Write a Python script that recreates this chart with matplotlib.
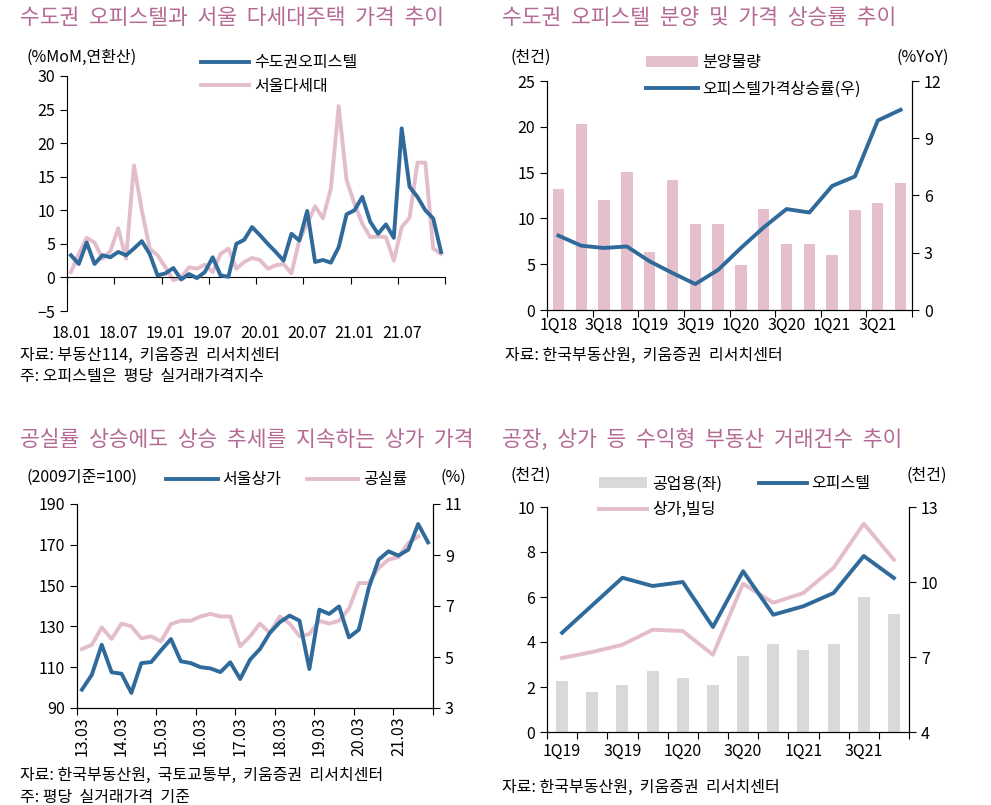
import matplotlib
matplotlib.use("Agg")
import matplotlib.pyplot as plt
import numpy as np

plt.rcParams['font.family'] = ['Noto Sans CJK KR', 'DejaVu Sans']
plt.rcParams['axes.unicode_minus'] = True

# ---- data ----
# panel 1: monthly, 18.01 ~ 21.12
officetel_mom = [3.3, 2.0, 5.2, 2.0, 3.3, 3.0, 3.8, 3.3, 4.3, 5.4, 3.5, 0.3,
                 0.6, 1.4, -0.3, 0.5, -0.1, 0.8, 3.0, 0.3, 0.1, 5.0, 5.6, 7.5,
                 6.3, 5.0, 3.8, 2.5, 6.5, 5.5, 9.9, 2.3, 2.6, 2.2, 4.5, 9.4,
                 10.0, 12.0, 8.3, 6.5, 7.9, 5.9, 22.2, 13.5, 12.0, 10.0, 8.8, 3.8]
villa_mom = [0.8, 3.5, 5.9, 5.2, 2.8, 3.9, 7.3, 2.8, 16.7, 10.0, 4.3, 3.3,
             1.5, -0.4, 0.0, 1.5, 1.3, 1.9, 0.8, 3.5, 4.3, 1.3, 2.3, 2.9,
             2.6, 1.3, 1.8, 2.0, 0.6, 5.5, 8.0, 10.6, 8.8, 13.2, 25.5, 14.5,
             11.0, 8.0, 6.0, 6.1, 6.0, 2.5, 7.5, 8.9, 17.1, 17.1, 4.3, 3.5]
month_labels = ['18.01', '18.07', '19.01', '19.07', '20.01', '20.07', '21.01', '21.07']

# panel 2: quarterly, 1Q18 ~ 4Q21
supply = [13.2, 20.3, 12.0, 15.1, 6.3, 14.2, 9.4, 9.4,
          4.9, 11.05, 7.2, 7.2, 6.0, 10.9, 11.7, 13.9]
officetel_yoy = [3.9, 3.37, 3.25, 3.33, 2.55, 1.94, 1.36, 2.1,
                 3.25, 4.33, 5.29, 5.11, 6.5, 7.0, 9.93, 10.49]
q18_labels = ['1Q18', '3Q18', '1Q19', '3Q19', '1Q20', '3Q20', '1Q21', '3Q21']

# panel 3: quarterly, 13.03 ~ 21.12
seoul_shop = [99, 106.3, 121, 107.5, 106.8, 97.4, 112, 112.5, 118.3, 123.8,
              112.9, 112, 110, 109.4, 107.6, 112.4, 104.2, 113.7, 118.9, 126.8,
              132, 135.3, 132.8, 109.1, 138.2, 136.1, 139.8, 124.6, 128.4, 148.8,
              162.7, 166.8, 164.7, 167.6, 180.2, 171.2]
vacancy = [5.31, 5.48, 6.16, 5.71, 6.31, 6.2, 5.73, 5.81, 5.61, 6.29,
           6.42, 6.42, 6.59, 6.69, 6.59, 6.59, 5.42, 5.81, 6.31, 5.94,
           6.59, 6.31, 5.81, 5.9, 6.42, 6.31, 6.42, 6.9, 7.9, 7.9,
           8.49, 8.82, 8.92, 9.47, 9.73]
year_labels = ['13.03', '14.03', '15.03', '16.03', '17.03', '18.03', '19.03', '20.03', '21.03']

# panel 4: quarterly, 1Q19 ~ 4Q21
industrial = [2.25, 1.8, 2.1, 2.71, 2.4, 2.07, 3.38, 3.9, 3.63, 3.9, 6.0, 5.23]
officetel_cnt = [7.97, 9.07, 10.17, 9.84, 10.0, 8.2, 10.43, 8.69, 9.03, 9.56, 11.04, 10.16]
shop_bldg = [6.96, 7.2, 7.49, 8.09, 8.04, 7.09, 9.93, 9.17, 9.56, 10.57, 12.33, 10.89]
q19_labels = ['1Q19', '3Q19', '1Q20', '3Q20', '1Q21', '3Q21']

BLUE = '#2f6a9b'
PINK = '#e3bdcb'
BARPINK = '#e5c0cc'
GRAY = '#d9d9d9'
TITLE = '#b46a94'
FS = 11.5
TFS = 15.5

W, H = 991, 805
fig = plt.figure(figsize=(W / 100, H / 100), dpi=100)


def box(x0, y0, x1, y1):
    return [x0 / W, 1 - y1 / H, (x1 - x0) / W, (y1 - y0) / H]


def ftext(x, y, s, **kw):
    kw.setdefault('fontsize', FS)
    kw.setdefault('va', 'center')
    fig.text(x / W, 1 - y / H, s, **kw)


def cat_xaxis(ax, n, step, labels, pad=4, rotation=0, tick_every=None):
    te = tick_every or step
    ax.set_xlim(-0.5, n - 0.5)
    ax.set_xticks(np.arange(-0.5, n, te))
    ax.set_xticklabels([])
    ax.set_xticks(np.arange(0, n, step)[:len(labels)], minor=True)
    ax.set_xticklabels(labels, minor=True, rotation=rotation, fontsize=FS)
    ax.tick_params(axis='x', which='major', length=5, direction='out')
    ax.tick_params(axis='x', which='minor', length=0, pad=pad)


# ---------- panel 1 ----------
ax1 = fig.add_axes(box(67, 76, 445, 311))
x1 = np.arange(len(officetel_mom))
ax1.plot(x1, officetel_mom, color=BLUE, lw=2.8, label='수도권오피스텔', zorder=3)
ax1.plot(x1, villa_mom, color=PINK, lw=2.8, label='서울다세대', zorder=2)
ax1.set_ylim(-5, 30)
ax1.set_yticks(range(-5, 31, 5))
ax1.tick_params(axis='y', labelsize=FS, length=5)
for s in ['top', 'right']:
    ax1.spines[s].set_visible(False)
ax1.spines['bottom'].set_position(('data', 0))
cat_xaxis(ax1, 48, 6, month_labels, pad=34)
ax1.legend(loc='upper left', bbox_to_anchor=(195 / W, 1 - 48 / H), bbox_transform=fig.transFigure,
           frameon=False, fontsize=FS, handlelength=3.0, handletextpad=0.3, labelspacing=0.4,
           borderaxespad=0)
ftext(27, 57, '(%MoM,연환산)')
ftext(20, 18, '수도권  오피스텔과  서울  다세대주택  가격  추이', fontsize=TFS, color=TITLE)
ftext(20, 355, '자료: 부동산114,  키움증권  리서치센터')
ftext(20, 377, '주: 오피스텔은  평당  실거래가격지수')

# ---------- panel 2 ----------
ax2 = fig.add_axes(box(547, 81, 912, 310))
x2 = np.arange(len(supply))
ax2.bar(x2, supply, width=0.5, color=BARPINK, label='분양물량')
ax2.set_ylim(0, 25)
ax2.set_yticks(range(0, 26, 5))
ax2.tick_params(axis='y', labelsize=FS, length=5)
ax2.spines['top'].set_visible(False)
cat_xaxis(ax2, 16, 2, q18_labels, pad=5)
ax2r = ax2.twinx()
ax2r.plot(x2, officetel_yoy, color=BLUE, lw=2.8, label='오피스텔가격상승률(우)')
ax2r.set_ylim(0, 12)
ax2r.set_yticks(range(0, 13, 3))
ax2r.tick_params(axis='y', labelsize=FS, length=5)
ax2r.spines['top'].set_visible(False)
h1, l1 = ax2.get_legend_handles_labels()
h2, l2 = ax2r.get_legend_handles_labels()
ax2r.legend(h1 + h2, l1 + l2, loc='upper left', bbox_to_anchor=(640 / W, 1 - 48 / H),
            bbox_transform=fig.transFigure, frameon=False, fontsize=FS, handlelength=3.2,
            handletextpad=0.3, labelspacing=0.6, borderaxespad=0)
ftext(510, 57, '(천건)')
ftext(896, 57, '(%YoY)')
ftext(502, 18, '수도권  오피스텔  분양  및  가격  상승률  추이', fontsize=TFS, color=TITLE)
ftext(505, 355, '자료: 한국부동산원,  키움증권  리서치센터')

# ---------- panel 3 ----------
ax3 = fig.add_axes(box(77, 504, 433, 708))
x3 = np.arange(len(seoul_shop))
ax3.plot(x3, seoul_shop, color=BLUE, lw=2.8, label='서울상가', zorder=3)
ax3.set_ylim(90, 190)
ax3.set_yticks(range(90, 191, 20))
ax3.tick_params(axis='y', labelsize=FS, length=5)
ax3.spines['top'].set_visible(False)
cat_xaxis(ax3, 36, 4, year_labels, pad=6, rotation=90)
ax3r = ax3.twinx()
ax3r.plot(np.arange(len(vacancy)), vacancy, color=PINK, lw=2.8, label='공실률', zorder=2)
ax3r.set_ylim(3, 11)
ax3r.set_yticks(range(3, 12, 2))
ax3r.tick_params(axis='y', labelsize=FS, length=5)
ax3r.spines['top'].set_visible(False)
ax3.set_zorder(ax3r.get_zorder() + 1)
ax3.patch.set_visible(False)
h1, l1 = ax3.get_legend_handles_labels()
h2, l2 = ax3r.get_legend_handles_labels()
ax3.legend(h1 + h2, l1 + l2, loc='upper left', bbox_to_anchor=(160 / W, 1 - 465 / H),
           bbox_transform=fig.transFigure, frameon=False, fontsize=FS, ncol=2,
           handlelength=3.2, handletextpad=0.3, columnspacing=1.6, borderaxespad=0)
ftext(27, 477, '(2009기준=100)')
ftext(440, 477, '(%)')
ftext(20, 440, '공실률  상승에도  상승  추세를  지속하는  상가  가격', fontsize=TFS, color=TITLE)
ftext(20, 775, '자료: 한국부동산원,  국토교통부,  키움증권  리서치센터')
ftext(20, 797, '주: 평당  실거래가격  기준')

# ---------- panel 4 ----------
ax4 = fig.add_axes(box(547, 507, 909, 732))
x4 = np.arange(len(industrial))
ax4.bar(x4, industrial, width=0.4, color=GRAY, label='공업용(좌)')
ax4.set_ylim(0, 10)
ax4.set_yticks(range(0, 11, 2))
ax4.tick_params(axis='y', labelsize=FS, length=5)
ax4.spines['top'].set_visible(False)
cat_xaxis(ax4, 12, 2, q19_labels, pad=8, tick_every=1)
ax4r = ax4.twinx()
ax4r.plot(x4, officetel_cnt, color=BLUE, lw=2.8, label='오피스텔', zorder=3)
ax4r.plot(x4, shop_bldg, color=PINK, lw=2.8, label='상가,빌딩', zorder=2)
ax4r.set_ylim(4, 13)
ax4r.set_yticks(range(4, 14, 3))
ax4r.tick_params(axis='y', labelsize=FS, length=5)
ax4r.spines['top'].set_visible(False)
hb, lb = ax4.get_legend_handles_labels()
hl, ll = ax4r.get_legend_handles_labels()
ax4r.legend([hb[0], hl[1], hl[0]], [lb[0], ll[1], ll[0]], loc='upper left',
            bbox_to_anchor=(593 / W, 1 - 469 / H), bbox_transform=fig.transFigure,
            frameon=False, fontsize=FS, ncol=2, handlelength=3.0, handletextpad=0.3,
            columnspacing=2.3, labelspacing=0.55, borderaxespad=0)
ftext(510, 475, '(천건)')
ftext(906, 475, '(천건)')
ftext(502, 440, '공장,  상가  등  수익형  부동산  거래건수  추이', fontsize=TFS, color=TITLE)
ftext(502, 787, '자료: 한국부동산원,  키움증권  리서치센터')

fig.savefig('out.png', dpi=100)
